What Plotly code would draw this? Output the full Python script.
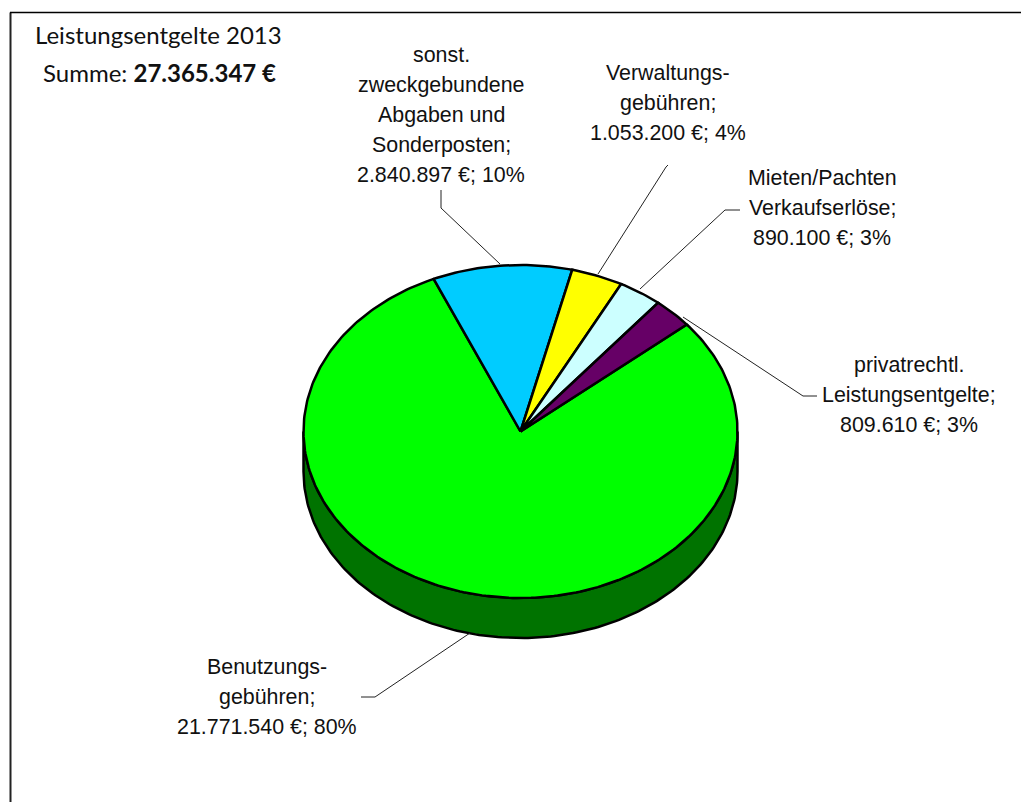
import math
import plotly.graph_objects as go

# --- data ---
categories = ["Benutzungsgebühren", "sonst. zweckgebundene Abgaben und Sonderposten",
              "Verwaltungsgebühren", "Mieten/Pachten Verkaufserlöse", "privatrechtl. Leistungsentgelte"]
values = [21771540, 2840897, 1053200, 890100, 809610]
label_lines = [["Benutzungs-", "gebühren;"],
               ["sonst.", "zweckgebundene", "Abgaben und", "Sonderposten;"],
               ["Verwaltungs-", "gebühren;"],
               ["Mieten/Pachten", "Verkaufserlöse;"],
               ["privatrechtl.", "Leistungsentgelte;"]]
title_year = "Leistungsentgelte 2013"
title_sum = "27.365.347 €"

# --- style / layout ---
face_colors = ["#00FF00", "#00CCFF", "#FFFF00", "#CCFFFF", "#660066"]
side_color = "#007300"
W, H = 1021, 802
CX, CY, RX, RY, DEPTH = 520.5, 431.5, 217, 166.5, 40
START_DEG = 50
LINE_H = 30
label_centers = [(267, 667), (441, 55), (668, 73), (822, 178), (909, 365)]
leaders = [[(361, 697), (375, 697), (470, 633)],
           [(441, 190), (441, 208), (500, 264)],
           [(668, 165), (666, 167), (598, 274)],
           [(740, 210), (725, 210), (640, 289)],
           [(817, 396), (803, 396), (683, 317)]]
label_font = dict(family="Liberation Sans, Arial", size=21.4, color="#111111")
title_font = dict(family="Lato, Open Sans", size=24, color="#111111")


def pt(deg, dy=0.0):
    a = math.radians(deg)
    return CX + RX * math.sin(a), CY - RY * math.cos(a) + dy


fig = go.Figure()

# side wall (lower half of the disc)
angs = [90 + i for i in range(0, 181)]
top = [pt(a) for a in angs]
bot = [pt(a, DEPTH) for a in reversed(angs)]
poly = top + bot + top[:1]
fig.add_trace(go.Scatter(x=[p[0] for p in poly], y=[p[1] for p in poly], mode="lines",
                         fill="toself", fillcolor=side_color,
                         line=dict(color="black", width=2.5), hoverinfo="skip"))

# wedges, clockwise from the start angle
total = sum(values)
start = START_DEG
for name, v, col in zip(categories, values, face_colors):
    sweep = v / total * 360
    n = max(int(sweep), 2)
    pts = [(CX, CY)] + [pt(start + sweep * i / n) for i in range(n + 1)] + [(CX, CY)]
    fig.add_trace(go.Scatter(x=[p[0] for p in pts], y=[p[1] for p in pts], mode="lines",
                             fill="toself", fillcolor=col,
                             line=dict(color="black", width=2.5),
                             name=name, hoverinfo="name"))
    start += sweep

# leader lines
for seg in leaders:
    fig.add_trace(go.Scatter(x=[p[0] for p in seg], y=[p[1] for p in seg], mode="lines",
                             line=dict(color="#222222", width=1), hoverinfo="skip"))

# labels, one annotation per line for the wide line spacing
ann = []
for lines, v, (lx, ly) in zip(label_lines, values, label_centers):
    pct = round(v / total * 100)
    money = f"{v:,}".replace(",", ".")
    for i, t in enumerate(lines + [f"{money} €; {pct}%"]):
        ann.append(dict(x=lx, y=ly + i * LINE_H, text=t, showarrow=False,
                        xanchor="center", yanchor="middle", font=label_font))
ann.append(dict(x=158, y=34, text=title_year, showarrow=False, xanchor="center",
                yanchor="middle", font=title_font))
ann.append(dict(x=159, y=72, text=f"Summe: <b>{title_sum}</b>", showarrow=False,
                xanchor="center", yanchor="middle", font=title_font))

frame = [dict(type="line", x0=10.5, x1=10.5, y0=12.5, y1=H, line=dict(color="#222222", width=2)),
         dict(type="line", x0=10, x1=W, y0=12.5, y1=12.5, line=dict(color="black", width=1.5))]

fig.update_layout(width=W, height=H, margin=dict(l=0, r=0, t=0, b=0),
                  paper_bgcolor="white", plot_bgcolor="white", showlegend=False,
                  xaxis=dict(range=[0, W], visible=False, fixedrange=True),
                  yaxis=dict(range=[H, 0], visible=False, fixedrange=True),
                  annotations=ann, shapes=frame)
fig.write_html("out.html", config=dict(displayModeBar=False),
               post_script="document.body.style.margin='0';document.body.style.overflow='hidden';")
